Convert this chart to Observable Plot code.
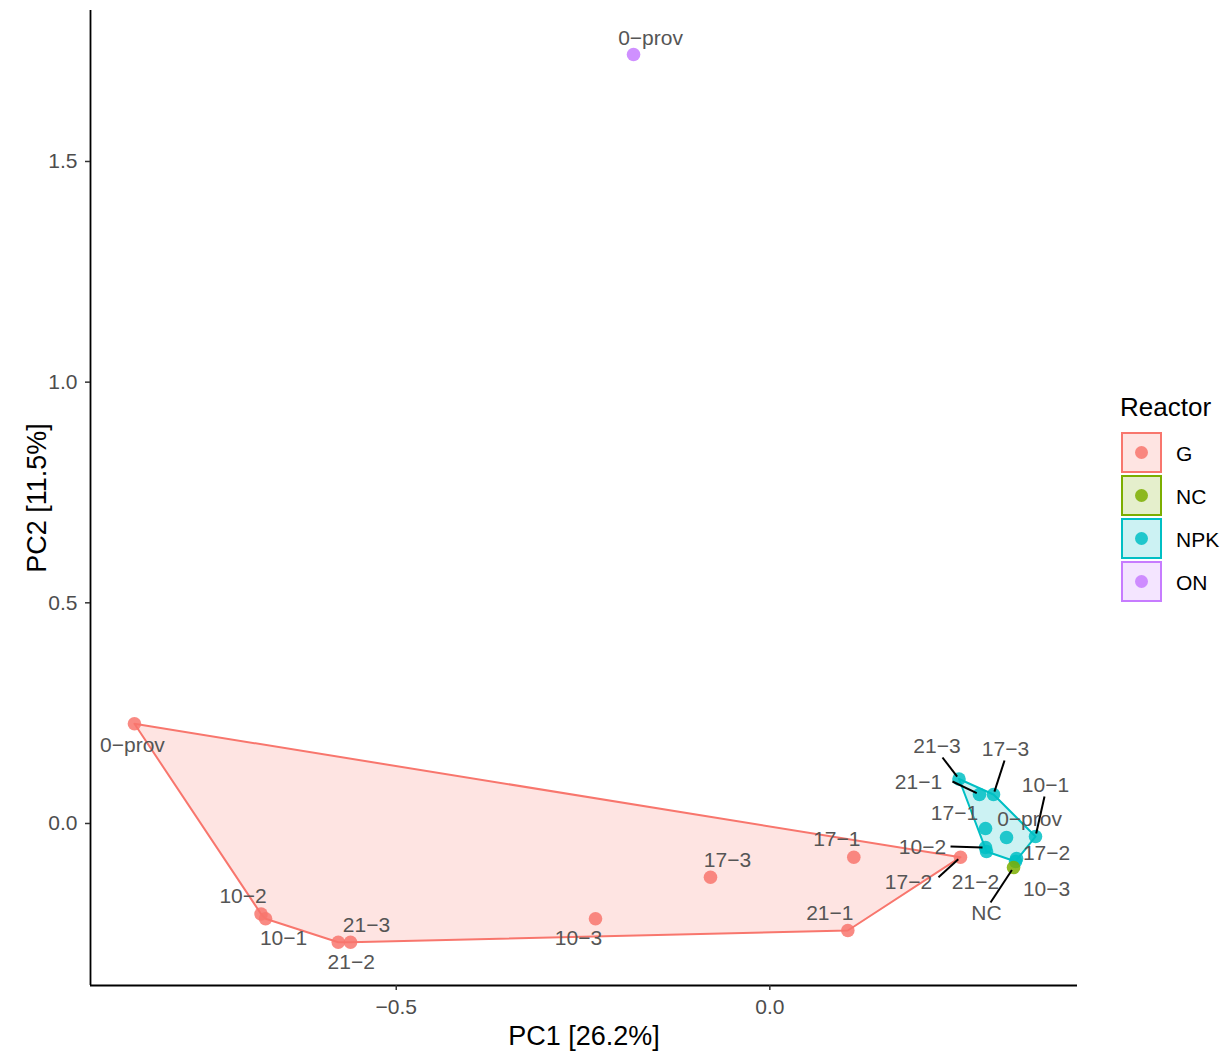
<!DOCTYPE html>
<html>
<head>
<meta charset="utf-8">
<script src="https://cdn.jsdelivr.net/npm/d3@7"></script>
<script src="https://cdn.jsdelivr.net/npm/@observablehq/plot@0.6"></script>
<style>
  html, body { margin: 0; padding: 0; background: white; }
  #wrap { position: relative; width: 1231px; height: 1053px; font-family: "Liberation Sans", Arial, sans-serif; }
  #chart { position: absolute; left: 0; top: 0; }
  #legend { position: absolute; left: 1100px; top: 0; }
</style>
</head>
<body>
<div id="wrap"><div id="chart"></div><div id="legend"></div></div>
<script>
// ---------------- data ----------------
const reactors = ["G", "NC", "NPK", "ON"];
const reactorColors = ["#F8766D", "#7CAE00", "#00BFC4", "#C77CFF"];

const groups = [
  "G", "G", "G", "G", "G", "G", "G", "G", "G", "G",
  "ON",
  "NPK", "NPK", "NPK", "NPK", "NPK", "NPK", "NPK", "NPK", "NPK", "NPK",
  "NC"
];
const samples = [
  "0−prov", "10−2", "10−1", "21−2", "21−3", "10−3", "17−3", "17−1", "21−1", "17−2",
  "0−prov",
  "21−3", "21−1", "17−3", "17−1", "0−prov", "10−1", "10−2", "21−2", "17−2", "10−3",
  "NC"
];
const pc1 = [
  -0.8504, -0.6809, -0.6749, -0.5776, -0.5612, -0.2333, -0.0794, 0.1124, 0.1044, 0.2552,
  -0.1824,
  0.2532, 0.2806, 0.2994, 0.2887, 0.3168, 0.3556, 0.2887, 0.2900, 0.3302, 0.3289,
  0.3262
];
const pc2 = [
  0.2259, -0.2051, -0.2159, -0.2690, -0.2690, -0.2159, -0.1217, -0.0764, -0.2424, -0.0764,
  1.7424,
  0.1008, 0.0657, 0.0657, -0.0113, -0.0317, -0.0295, -0.0544, -0.0634, -0.0793, -0.0861,
  -0.0997
];
const xTicks = [-0.5, 0.0];
const yTicks = [0.0, 0.5, 1.0, 1.5];
const xTitle = "PC1 [26.2%]";
const yTitle = "PC2 [11.5%]";
const legendTitle = "Reactor";

// ---------------- layout ----------------
const W = 1100, H = 1053, ML = 90, MR = 23, MT = 10, MB = 68;
const xDomain = [-0.9092, 0.4118];
const yDomain = [-0.3671, 1.8421];
const kx = (W - ML - MR) / (xDomain[1] - xDomain[0]);
const ky = (H - MT - MB) / (yDomain[1] - yDomain[0]);
const FONT = "'Liberation Sans', Arial, sans-serif";

// repelled label offsets (pixels, relative to the point)
const labelOffsets = {
  "G|0−prov": [-2, 21], "G|10−2": [-18, -18], "G|10−1": [18, 19], "G|21−2": [13, 20],
  "G|21−3": [16, -17], "G|10−3": [-17, 19], "G|17−3": [17, -17], "G|17−1": [-17, -18],
  "G|21−1": [-18, -17], "G|17−2": [-52, 25],
  "ON|0−prov": [17, -16],
  "NPK|21−3": [-22, -33], "NPK|21−1": [-61, -12], "NPK|17−3": [12, -45], "NPK|17−1": [-31, -15],
  "NPK|0−prov": [23, -18], "NPK|10−1": [10, -51], "NPK|10−2": [-63, 0], "NPK|21−2": [-11, 31],
  "NPK|17−2": [30, -5], "NPK|10−3": [31, 28],
  "NC|NC": [-27, 46]
};
// segment start points (pixels, relative to the point)
const segmentStarts = {
  "G|17−2": [-22, 20],
  "NPK|21−3": [-16.5, -21.5], "NPK|21−1": [-27, -13], "NPK|17−3": [11, -34],
  "NPK|10−1": [9, -40], "NPK|10−2": [-35, -1],
  "NC|NC": [-23, 35]
};

const data = groups.map((g, i) => ({group: g, sample: samples[i], x: pc1[i], y: pc2[i]}));
const key = d => d.group + "|" + d.sample;
const colorOf = g => reactorColors[reactors.indexOf(g)];

const labels = data.map(d => {
  const [dx, dy] = labelOffsets[key(d)] || [0, -18];
  return {...d, lx: d.x + dx / kx, ly: d.y - dy / ky};
});
const segments = data.filter(d => segmentStarts[key(d)]).map(d => {
  const [sx, sy] = segmentStarts[key(d)];
  const len = Math.hypot(sx, sy), shrink = 3 / len;
  return {
    x1: d.x + sx / kx, y1: d.y - sy / ky,
    x2: d.x + sx * shrink / kx, y2: d.y - sy * shrink / ky
  };
});

// convex hulls per group (computed from the data)
const hullMarks = [];
for (const g of reactors) {
  const pts = data.filter(d => d.group === g).map(d => [d.x, d.y]);
  if (pts.length < 3) continue;
  const hull = d3.polygonHull(pts).map(([x, y]) => ({x, y}));
  hullMarks.push(Plot.line(hull, {
    x: "x", y: "y", curve: "linear-closed",
    fill: colorOf(g), fillOpacity: 0.2, stroke: colorOf(g), strokeWidth: 2
  }));
}

const fmt = d3.format(".1f");
const pointOrder = ["G", "ON", "NPK", "NC"];
const sortedData = data.slice().sort((a, b) => pointOrder.indexOf(a.group) - pointOrder.indexOf(b.group));

const chart = Plot.plot({
  width: W, height: H,
  marginLeft: ML, marginRight: MR, marginTop: MT, marginBottom: MB,
  style: {fontFamily: FONT, fontSize: "21px", background: "white", color: "#4D4D4D", overflow: "visible"},
  x: {domain: xDomain, nice: false},
  y: {domain: yDomain, nice: false},
  color: {domain: reactors, range: reactorColors},
  marks: [
    ...hullMarks,
    Plot.dot(sortedData, {x: "x", y: "y", r: 6.8, fill: "group", fillOpacity: 0.85, stroke: "none"}),
    Plot.link(segments, {x1: "x1", y1: "y1", x2: "x2", y2: "y2", stroke: "black", strokeWidth: 2}),
    Plot.text(labels, {x: "lx", y: "ly", text: "sample", fill: "#555555", fontSize: 21, fontFamily: FONT}),
    Plot.ruleY([yDomain[0]], {stroke: "black", strokeWidth: 1.8}),
    Plot.ruleX([xDomain[0]], {stroke: "black", strokeWidth: 1.8}),
    Plot.axisX(xTicks, {tickFormat: fmt, tickSize: 5, tickPadding: 9, fontSize: 21, label: null, stroke: "#333333", fill: "#4D4D4D", strokeWidth: 1.5}),
    Plot.axisY(yTicks, {tickFormat: fmt, tickSize: 5, tickPadding: 8, fontSize: 21, label: null, stroke: "#333333", fill: "#4D4D4D", strokeWidth: 1.5}),
    Plot.text([xTitle], {frameAnchor: "bottom", textAnchor: "middle", dy: 59, fontSize: 27, fill: "black", fontFamily: FONT}),
    Plot.text([yTitle], {frameAnchor: "left", textAnchor: "middle", lineAnchor: "middle", dx: -53, rotate: -90, fontSize: 27, fill: "black", fontFamily: FONT})
  ]
});
document.getElementById("chart").appendChild(chart);

// ---------------- legend ----------------
const lg = d3.select("#legend").append("svg")
  .attr("width", 131).attr("height", H)
  .style("font-family", FONT);
lg.append("text").attr("x", 20).attr("y", 407).attr("dominant-baseline", "central")
  .attr("font-size", 26).attr("fill", "black").text(legendTitle);
reactors.forEach((g, i) => {
  const y0 = 433 + i * 43;
  const c = reactorColors[i];
  lg.append("rect").attr("x", 22).attr("y", y0).attr("width", 39).attr("height", 39)
    .attr("fill", c).attr("fill-opacity", 0.2).attr("stroke", c).attr("stroke-width", 2);
  lg.append("circle").attr("cx", 41.5).attr("cy", y0 + 19.5).attr("r", 6.5)
    .attr("fill", c).attr("fill-opacity", 0.85);
  lg.append("text").attr("x", 76).attr("y", y0 + 20).attr("dominant-baseline", "central")
    .attr("font-size", 21).attr("fill", "black").text(g);
});
</script>
</body>
</html>
